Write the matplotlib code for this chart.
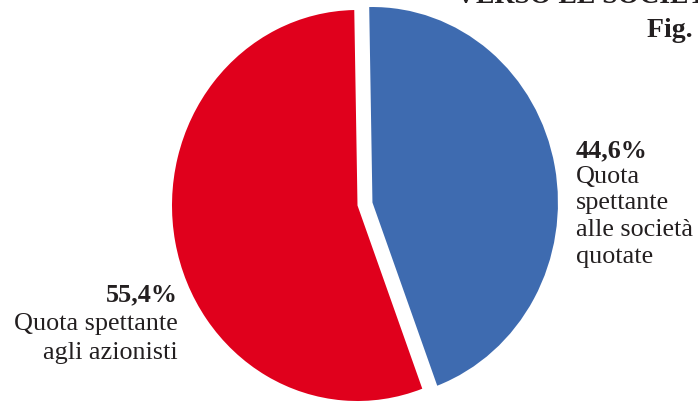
import matplotlib
matplotlib.use("Agg")
import matplotlib.pyplot as plt

# Data
labels = ["Quota spettante alle società quotate", "Quota spettante agli azionisti"]
values = [44.6, 55.4]
pct_labels = ["44,6%", "55,4%"]
colors = ["#3E6BB0", "#E0001C"]

W, H = 698, 403
fig = plt.figure(figsize=(W / 100, H / 100), dpi=100)
ax = fig.add_axes([0, 0, 1, 1])

ax.pie(values, colors=colors, startangle=91, counterclock=False,
       explode=[0.082, 0], radius=1,
       wedgeprops=dict(linewidth=0))

# Slightly squashed pie as in the reference
cx, cy, rx, ry = 357.5, 205.5, 185.5, 195.5
ax.set_aspect("auto")
ax.set_xlim(-cx / rx, (W - cx) / rx)
ax.set_ylim((cy - H) / ry, cy / ry)
ax.axis("off")

def px(x, y):
    return x / W, 1 - y / H

serif = ["Liberation Serif", "DejaVu Serif"]
tc = "#231F20"
fs = 18.8

# Right label (blue)
fig.text(*px(576, 157), pct_labels[0], ha="left", va="baseline",
         fontsize=fs, fontweight="bold", family=serif, color=tc)
for i, line in enumerate(["Quota", "spettante", "alle società", "quotate"]):
    fig.text(*px(576, 183 + i * 26.5), line, ha="left", va="baseline",
             fontsize=fs, family=serif, color=tc)

# Left label (red)
fig.text(*px(178, 301), pct_labels[1], ha="right", va="baseline",
         fontsize=fs, fontweight="bold", family=serif, color=tc)
for i, line in enumerate(["Quota spettante", "agli azionisti"]):
    fig.text(*px(178, 330 + i * 28.5), line, ha="right", va="baseline",
             fontsize=fs, family=serif, color=tc)

# Clipped title fragments at the top right
fig.text(*px(456, 3), "VERSO LE SOCIETÀ QUOTATE", ha="left", va="baseline",
         fontsize=20, fontweight="bold", family=serif, color=tc)
fig.text(*px(647, 37), "Fig. 1", ha="left", va="baseline",
         fontsize=20, fontweight="bold", family=serif, color=tc)

fig.savefig("out.png", dpi=100)
